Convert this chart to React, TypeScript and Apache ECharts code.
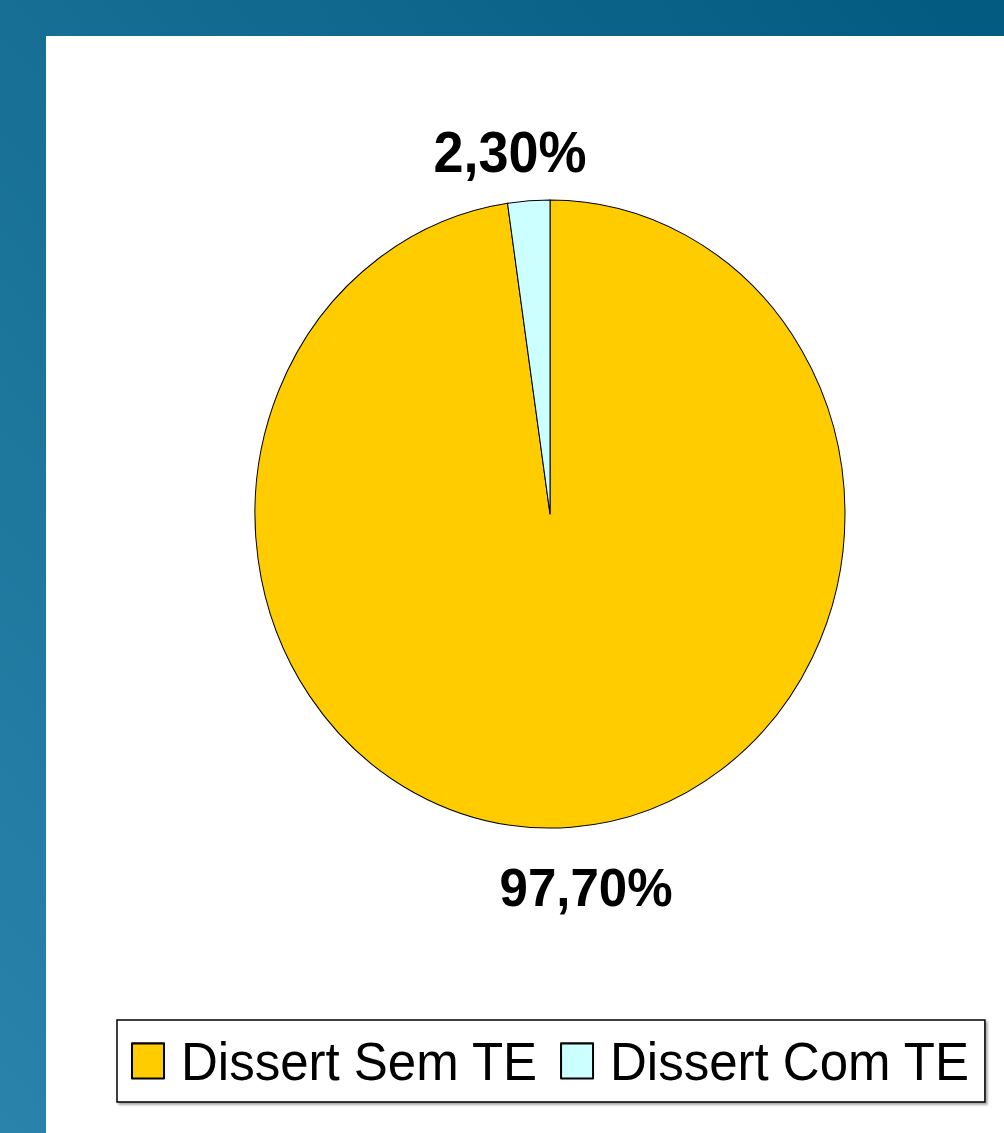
import React, { useEffect, useRef } from "react";
import * as echarts from "echarts";

const categories = ["Dissert Sem TE", "Dissert Com TE"];
const values = [97.7, 2.3];
const labelTexts = ["97,70%", "2,30%"];
const colors = ["#FFCC00", "#CCFFFF"];

// the reference is drawn slightly stretched vertically (elliptical pie)
const SY = 314 / 295;
const W = 1004;
const H = 1133;
const IH = Math.ceil(H / SY) + 2;

export default function App() {
  const ref = useRef<HTMLDivElement>(null);
  useEffect(() => {
    if (!ref.current) return;
    const chart = echarts.init(ref.current, null, { renderer: "svg" });
    const labelPos: Record<number, [number, number]> = {
      0: [586, 887 / SY],
      1: [510, 152 / SY],
    };
    const labelSize = [51, 54];
    chart.setOption({
      animation: false,
      graphic: [
        {
          type: "rect",
          z: -10,
          silent: true,
          shape: { x: 0, y: 0, width: W, height: IH + 10 },
          style: {
            fill: new echarts.graphic.LinearGradient(1, 0, 0, 1, [
              { offset: 0, color: "#025a80" },
              { offset: 1, color: "#2a83aa" },
            ]),
          },
        },
        {
          type: "rect",
          z: -9,
          silent: true,
          shape: { x: 46, y: 36 / SY, width: W - 46 + 10, height: IH },
          style: { fill: "#ffffff" },
        },
      ],
      legend: {
        left: 117,
        top: 1020 / SY,
        orient: "horizontal",
        icon: "rect",
        itemWidth: 32,
        itemHeight: 33,
        itemGap: 22,
        padding: [13, 15, 13, 14],
        borderColor: "#000",
        borderWidth: 1.5,
        backgroundColor: "#fff",
        shadowColor: "rgba(0,0,0,0.35)",
        shadowBlur: 2,
        shadowOffsetX: 2,
        shadowOffsetY: 2,
        textStyle: {
          fontFamily: "Liberation Sans, Arial, sans-serif",
          fontSize: 51,
          color: "#000",
          padding: [0, 0, 0, 12],
        },
        data: categories,
      },
      series: [
        {
          type: "pie",
          center: [550, 514 / SY],
          radius: 295,
          startAngle: 90,
          clockwise: true,
          avoidLabelOverlap: false,
          itemStyle: { borderColor: "#000", borderWidth: 1 },
          label: {
            show: true,
            position: "outside",
            formatter: (p: any) => labelTexts[p.dataIndex],
            fontFamily: "Liberation Sans, Arial, sans-serif",
            fontWeight: "bold",
            fontSize: 51,
            color: "#000",
          },
          labelLine: { show: false },
          labelLayout: (p: any) => ({
            x: labelPos[p.dataIndex][0],
            y: labelPos[p.dataIndex][1],
            align: "center",
            verticalAlign: "middle",
          }),
          emphasis: { disabled: true },
          data: categories.map((name, i) => ({
            name,
            value: values[i],
            itemStyle: { color: colors[i] },
            label: { fontSize: labelSize[i] },
          })),
        },
      ],
    });
    return () => chart.dispose();
  }, []);
  return (
    <div
      style={{
        position: "absolute",
        left: 0,
        top: 0,
        width: W,
        height: H,
        overflow: "hidden",
      }}
    >
      <div
        ref={ref}
        style={{
          width: W,
          height: IH,
          transform: `scaleY(${SY})`,
          transformOrigin: "0 0",
        }}
      />
    </div>
  );
}
